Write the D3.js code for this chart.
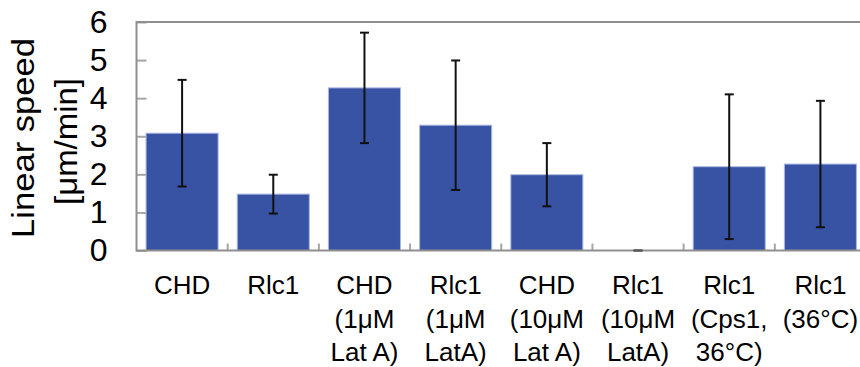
<!DOCTYPE html>
<html><head><meta charset="utf-8">
<script src="https://cdn.jsdelivr.net/npm/d3@7"></script>
<style>body{margin:0;background:#fff}svg{display:block}text{font-family:Arial,"Liberation Sans",sans-serif;fill:#000}</style>
</head><body><svg id="c" width="860" height="367"></svg>
<script>
const categories = ["CHD","Rlc1","CHD (1μM Lat A)","Rlc1 (1μM LatA)","CHD (10μM Lat A)","Rlc1 (10μM LatA)","Rlc1 (Cps1, 36°C)","Rlc1 (36°C)"];
const labelLines = [["CHD"],["Rlc1"],["CHD","(1μM","Lat A)"],["Rlc1","(1μM","LatA)"],["CHD","(10μM","Lat A)"],["Rlc1","(10μM","LatA)"],["Rlc1","(Cps1,","36°C)"],["Rlc1","(36°C)"]];
const means = [3.08, 1.48, 4.27, 3.29, 1.99, 0, 2.20, 2.27];
const errors = [1.40, 0.51, 1.45, 1.70, 0.83, 0, 1.90, 1.66];
const yTicks = [0,1,2,3,4,5,6];
const yTitle = ["Linear speed","[μm/min]"];

const svg = d3.select("#c");
const L = 136.5, R = 866, T = 22, B = 250.5;
const x = d3.scaleBand().domain(categories).range([L, R]).paddingInner(0.21).paddingOuter(0.105);
const y = d3.scaleLinear().domain([0,6]).range([B, T]);
const axisColor = "#8f8f8f";

// y ticks (inward)
const ya = svg.append("g").attr("transform",`translate(${L},0)`)
  .call(d3.axisLeft(y).tickValues(yTicks).tickFormat(d3.format("d")).tickSizeInner(-10).tickSizeOuter(0).tickPadding(29));
ya.select(".domain").remove();
ya.selectAll(".tick line").attr("stroke","#a6a6a6").attr("stroke-width",2);
ya.selectAll(".tick text").attr("font-size",32).attr("font-family","Arial, 'Liberation Sans', sans-serif").attr("fill","#000");

// x category boundary ticks
const step = x.step();
const bounds = d3.range(1, categories.length).map(i => x(categories[i]) - x.paddingInner()*step/2);
svg.append("g").selectAll("line").data(bounds).join("line")
  .attr("x1",d=>d).attr("x2",d=>d).attr("y1",B).attr("y2",B-7)
  .attr("stroke","#a6a6a6").attr("stroke-width",2);

// bars
svg.append("g").selectAll("rect").data(categories).join("rect")
  .attr("x",d=>x(d)).attr("width",x.bandwidth())
  .attr("y",(d,i)=>y(means[i])).attr("height",(d,i)=>B-y(means[i]))
  .attr("fill","#3953a4").attr("stroke","#a9b6e0").attr("stroke-width",1);

// frame
svg.append("path").attr("d",`M${R},${T}H${L}V${B}H${R}`).attr("fill","none")
  .attr("stroke",axisColor).attr("stroke-width",2);

// error bars
const eg = svg.append("g").attr("stroke","#111").attr("stroke-width",2);
categories.forEach((c,i)=>{
  const cx = x(c)+x.bandwidth()/2;
  const hi = y(means[i]+errors[i]), lo = y(means[i]-errors[i]);
  if (errors[i] > 0) eg.append("line").attr("x1",cx).attr("x2",cx).attr("y1",hi).attr("y2",lo);
  eg.append("line").attr("x1",cx-4.5).attr("x2",cx+4.5).attr("y1",hi).attr("y2",hi).attr("stroke", errors[i]>0?"#111":"#555");
  eg.append("line").attr("x1",cx-4.5).attr("x2",cx+4.5).attr("y1",lo).attr("y2",lo).attr("stroke", errors[i]>0?"#111":"#555");
});

// x labels
const xl = svg.append("g");
categories.forEach((c,i)=>{
  const cx = x(c)+x.bandwidth()/2;
  const t = xl.append("text").attr("text-anchor","middle").attr("font-size",26);
  labelLines[i].forEach((s,j)=>{
    t.append("tspan").attr("x",cx).attr("y",294+j*33.7).text(s);
  });
});

// y title (two rotated lines, glyphs slightly stretched like the original)
const titleSpec = [{cy:138, base:33.5, len:200},{cy:141.5, base:77, len:127}];
yTitle.forEach((s,i)=>{
  svg.append("text").attr("text-anchor","middle").attr("font-size",31)
    .attr("transform",`translate(${titleSpec[i].base},${titleSpec[i].cy}) rotate(-90)`)
    .attr("textLength",titleSpec[i].len).attr("lengthAdjust","spacingAndGlyphs")
    .text(s);
});
</script></body></html>
